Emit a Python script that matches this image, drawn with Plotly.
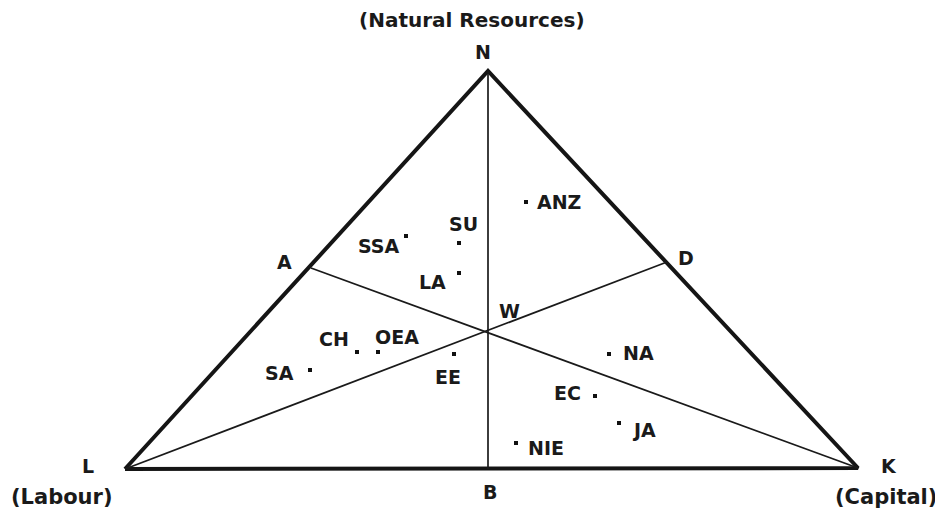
import plotly.graph_objects as go

# Vertices of the triangle (chart coordinates, y grows downward)
vertex_names = ["L", "K", "N"]
vertex_x = [125, 858, 488]
vertex_y = [469, 468, 71]

# Interior reference points
ref_names = ["A", "D", "B", "W"]
ref_x = [311, 667, 488, 488]
ref_y = [268, 262, 469, 332]

# Regions / countries
regions = ["ANZ", "SU", "SSA", "LA", "CH", "OEA", "EE", "SA", "NA", "EC", "JA", "NIE"]
region_x = [526, 459, 406, 459, 357, 378, 454, 310, 609, 595, 619, 516]
region_y = [202, 243, 236, 273, 352, 352, 354, 370, 354, 396, 423, 443]

# Factor names at the corners
factor_labels = ["(Labour)", "(Capital)", "(Natural Resources)"]

# label offsets (style) for regions: (xshift, yshift, xanchor)
region_label_style = {
    "ANZ": (9, 0, "left"), "SU": (4, 19, "center"), "SSA": (-4, -10, "right"),
    "LA": (-11, -9, "right"), "CH": (-6, 13, "right"), "OEA": (19, 15, "center"),
    "EE": (-6, -23, "center"), "SA": (-14, -3, "right"), "NA": (12, 1, "left"),
    "EC": (-12, 3, "right"), "JA": (11, -7, "left"), "NIE": (10, -5, "left"),
}

FONT = "DejaVu Sans"
fig = go.Figure()

V = dict(zip(vertex_names, zip(vertex_x, vertex_y)))
R = dict(zip(ref_names, zip(ref_x, ref_y)))

# outer triangle
fig.add_trace(go.Scatter(
    x=[V["L"][0], V["K"][0], V["N"][0], V["L"][0]],
    y=[V["L"][1], V["K"][1], V["N"][1], V["L"][1]],
    mode="lines", line=dict(color="#151515", width=4), hoverinfo="skip"))

# inner lines N-B, A-K, D-L
for p, q in [(V["N"], R["B"]), (R["A"], V["K"]), (R["D"], V["L"])]:
    fig.add_trace(go.Scatter(x=[p[0], q[0]], y=[p[1], q[1]], mode="lines",
                             line=dict(color="#1a1a1a", width=1.7), hoverinfo="skip"))

# region dots
fig.add_trace(go.Scatter(x=region_x, y=region_y, mode="markers",
                         marker=dict(symbol="square", size=4, color="#111"),
                         hoverinfo="skip"))

ann = []
tf = dict(family=FONT, size=19, color="#1a1a1a")
tf_big = dict(family=FONT, size=21, color="#1a1a1a")
for n, x, y in zip(regions, region_x, region_y):
    xs, ys, xa = region_label_style[n]
    ann.append(dict(x=x, y=y, text="<b>%s</b>" % n, showarrow=False, xshift=xs, yshift=ys,
                    xanchor=xa, yanchor="middle", font=tf))

# vertex letters
vertex_label_style = {"L": (-37, 3), "K": (31, 2), "N": (-5, 19)}
for n, (x, y) in V.items():
    xs, ys = vertex_label_style[n]
    ann.append(dict(x=x, y=y, text="<b>%s</b>" % n, showarrow=False, xshift=xs, yshift=ys,
                    font=tf))
ref_label_style = {"A": (-27, 6), "D": (19, 4), "B": (2, -23), "W": (21, 21)}
for n, (x, y) in R.items():
    xs, ys = ref_label_style[n]
    ann.append(dict(x=x, y=y, text="<b>%s</b>" % n, showarrow=False, xshift=xs, yshift=ys,
                    font=tf))

# factor labels
ann.append(dict(x=62, y=497, text="<b>%s</b>" % factor_labels[0], showarrow=False, font=tf_big))
ann.append(dict(x=886, y=497, text="<b>%s</b>" % factor_labels[1], showarrow=False, font=tf_big))
ann.append(dict(x=472, y=20, text="<b>%s</b>" % factor_labels[2], showarrow=False,
                borderpad=0, font=dict(family=FONT, size=20, color="#1a1a1a")))

# The page body has an 8px margin: the plot covers page pixels 8..943 / 8..517
fig.update_layout(
    width=935, height=509, autosize=False,
    margin=dict(l=0, r=0, t=0, b=0),
    paper_bgcolor="white", plot_bgcolor="white",
    showlegend=False, annotations=ann,
    xaxis=dict(range=[8, 943], visible=False, fixedrange=True),
    yaxis=dict(range=[517, 8], visible=False, fixedrange=True),
)
fig.write_html("out.html")
